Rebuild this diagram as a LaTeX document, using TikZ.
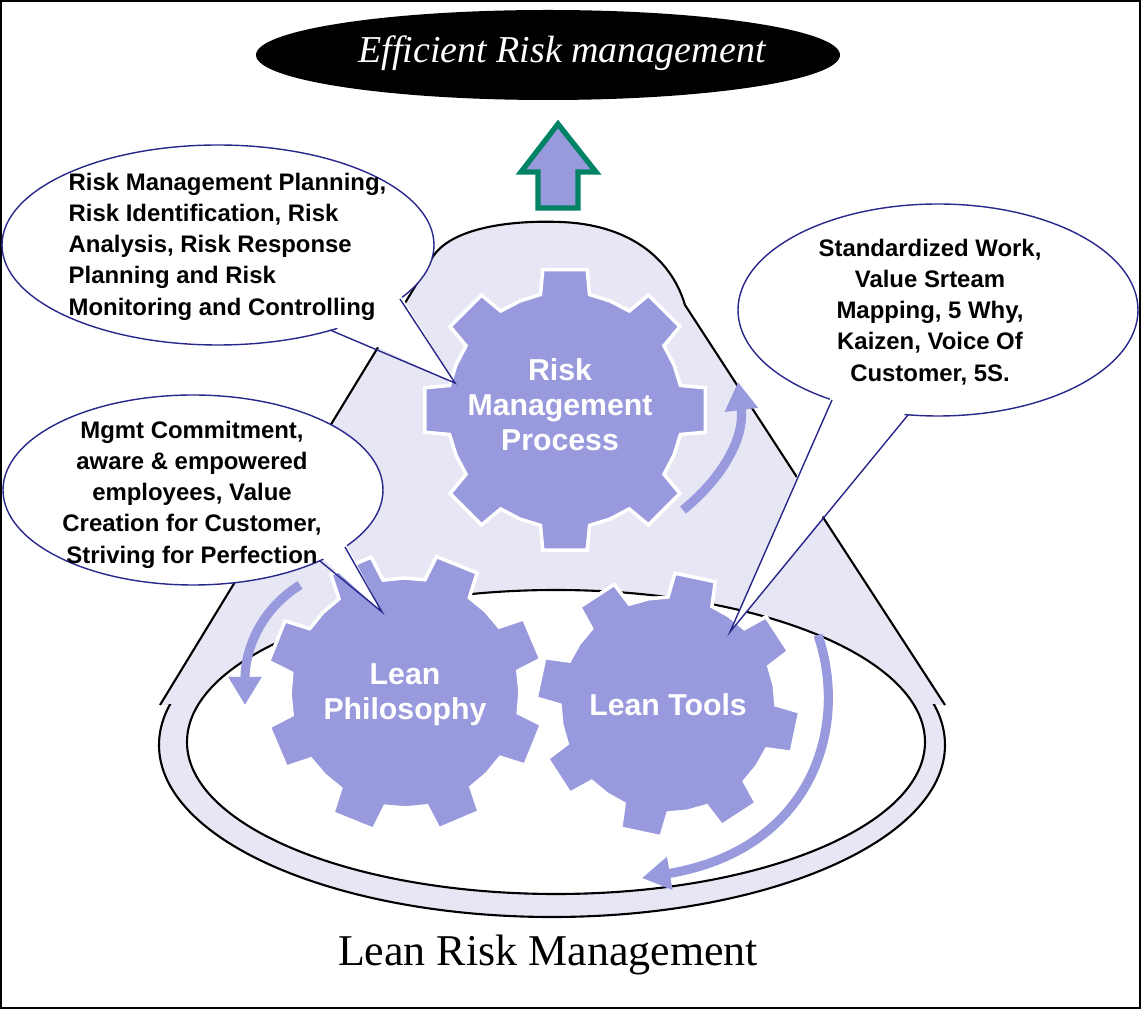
\documentclass[tikz,border=0pt]{standalone}
\usepackage{fontspec}
\setmainfont{Liberation Serif}
\setsansfont{Liberation Sans}
\usetikzlibrary{arrows.meta}
\definecolor{gearc}{RGB}{153,153,221}
\definecolor{conec}{RGB}{230,230,244}
\definecolor{navy}{RGB}{40,40,140}
\definecolor{arrg}{RGB}{0,130,100}
\tikzset{
 callout/.style={draw=navy,line width=0.4pt,fill=white},
 ctext/.style={font=\sffamily\bfseries\fontsize{6.8}{8.9}\selectfont,align=left,anchor=north west,inner sep=0},
 gtext/.style={font=\sffamily\bfseries\fontsize{8.6}{10}\selectfont,text=white,align=center},
 gearfill/.style={fill=gearc,draw=white,line width=1pt},
 circarr/.style={draw=gearc,line width=2.6pt,-{Triangle[length=8pt,width=9pt]}},
 ptr/.style={navy,line width=0.4pt},
}
\newcommand\mygear[6]{%
 \begin{scope}[shift={(#1,#2)}]
 \path[gearfill] (#6-22.5:#3) \foreach \i in {0,...,7}{ -- (#6+\i*45-12:#3) -- (#6+\i*45-9:#4) -- (#6+\i*45+9:#4) -- (#6+\i*45+12:#3) -- (#6+\i*45+22.5:#3)} -- cycle;
 \end{scope}}
\begin{document}
\begin{tikzpicture}[x=0.01cm,y=-0.01cm]
\useasboundingbox (0,0) rectangle (1142,1010);
\draw[line width=0.6pt] (1,1) rectangle (1140,1008);
% cone
\def\conepath{(160,705) -- (430,262) .. controls (445,228) and (510,220) .. (560,222) .. controls (625,224) and (670,255) .. (685,305) -- (945,705)}
\fill[conec] \conepath -- cycle;
\fill[conec] (552,745) ellipse [x radius=393, y radius=172];
\draw[line width=0.6pt] \conepath;
\begin{scope}
\clip (0,705) rectangle (1142,1000);
\draw[line width=0.6pt] (552,745) ellipse [x radius=393, y radius=172];
\end{scope}
\draw[fill=white,line width=0.6pt] (556,742) ellipse [x radius=369, y radius=152];
% title
\fill (548,55) ellipse [x radius=292,y radius=45];
\node[text=white,font=\itshape\fontsize{10.8}{12}\selectfont] (title) at (562,53) {Efficient Risk management};
% up arrow
\draw[arrg,fill=gearc,line width=1.5pt] (558,124) -- (596,172) -- (578,172) -- (578,208) -- (538,208) -- (538,172) -- (521,172) -- cycle;
% gears
\mygear{565}{410}{118}{142}{8}{0}
\mygear{405}{693}{115}{140}{8}{22}
\mygear{668}{705}{108}{132}{8}{12}
\node[gtext] (rmp) at (560,405) {Risk\\Management\\Process};
\node[gtext] (lp) at (405,695) {Lean\\Philosophy};
\node[gtext] (lt) at (668,705) {Lean Tools};
% circular arrows
\draw[circarr] (683,510) .. controls (720,480) and (745,440) .. (738,382);
\draw[circarr] (300,585) .. controls (260,610) and (245,650) .. (245,705);
\draw[circarr] (818,635) .. controls (850,730) and (810,850) .. (642,878);
% callouts
\draw[callout] (218,245) ellipse [x radius=216,y radius=100];
\path[fill=white] (400,294) -- (455,383) -- (330,325) -- cycle;
\draw[ptr] (400,299) -- (455,383) -- (330,330);
\node[ctext] (c1) at (68,172) {Risk Management Planning,\\Risk Identification, Risk\\Analysis, Risk Response\\Planning and Risk\\Monitoring and Controlling};

\draw[callout] (938,310) ellipse [x radius=200,y radius=106];
\path[fill=white] (832,395) -- (730,632) -- (908,410) -- cycle;
\draw[ptr] (832,400) -- (730,632) -- (908,415);
\node[ctext,align=center,anchor=north] (c2) at (930,238) {Standardized Work,\\Value Srteam\\Mapping, 5 Why,\\Kaizen, Voice Of\\Customer, 5S.};

\draw[callout] (193,490) ellipse [x radius=190,y radius=95];
\path[fill=white] (320,556) -- (382,612) -- (345,542) -- cycle;
\draw[ptr] (320,561) -- (382,612) -- (345,547);
\node[ctext,align=center,anchor=north] (c3) at (192,420) {Mgmt Commitment,\\aware \& empowered\\employees, Value\\Creation for Customer,\\Striving for Perfection};
% bottom title
\node[font=\fontsize{12.5}{13}\selectfont] (bt) at (548,955) {Lean Risk Management};
\end{tikzpicture}
\end{document}
